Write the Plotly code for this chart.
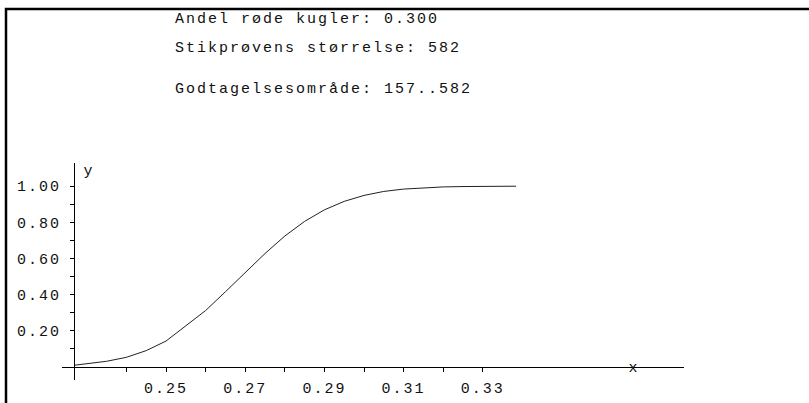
import plotly.graph_objects as go

# Operating characteristic: probability of landing in the acceptance region
p_values = [0.2268, 0.230, 0.235, 0.240, 0.245, 0.250, 0.255, 0.260, 0.265,
            0.270, 0.275, 0.280, 0.285, 0.290, 0.295, 0.300, 0.305, 0.310,
            0.315, 0.320, 0.325, 0.330, 0.335, 0.3384]
accept_prob = [0.008, 0.015, 0.030, 0.052, 0.089, 0.142, 0.224, 0.311, 0.415,
               0.520, 0.627, 0.724, 0.805, 0.869, 0.916, 0.949, 0.971, 0.984,
               0.992, 0.996, 0.998, 0.999, 1.000, 1.000]

x_major = [0.25, 0.27, 0.29, 0.31, 0.33]
x_minor = [0.24, 0.26, 0.28, 0.30, 0.32]
y_major = [0.20, 0.40, 0.60, 0.80, 1.00]
y_minor = [0.10, 0.30, 0.50, 0.70, 0.90]

info_lines = ["Andel røde kugler: 0.300",
              "Stikprøvens størrelse: 582",
              "Godtagelsesområde: 157..582"]

W, H = 809, 403
FONT = dict(family="Liberation Mono, Courier New, monospace", size=15, color="#111111")


def spaced(s):
    # wide character pitch, like a typewriter face
    return f'<span style="letter-spacing:2px">{s}</span>'


# pixel geometry of the axes
x_px_per_unit = 3960.0
x_ref_val, x_ref_px = 0.25, 166.0
y_px_per_unit = 180.5
y_zero_px = 366.7
x_axis_px = (62.0, 684.0)
y_axis_px = (163.0, 380.0)
y_axis_x_px = 74.0


def xval(px):
    return x_ref_val + (px - x_ref_px) / x_px_per_unit


def yval(py):
    return (y_zero_px - py) / y_px_per_unit


fig = go.Figure()
fig.add_trace(go.Scatter(x=p_values, y=accept_prob, mode="lines",
                         line=dict(color="#222222", width=1),
                         hoverinfo="skip", showlegend=False))

# page frame (top and left edges), drawn on a full-page pixel overlay
frame_x = [6, 6, W + 2]
frame_y = [H + 2, 9, 9]
fig.add_trace(go.Scatter(x=frame_x, y=frame_y, xaxis="x2", yaxis="y2",
                         mode="lines", line=dict(color="black", width=2.5),
                         hoverinfo="skip", showlegend=False))

# header text and axis names, placed in page pixels on the same overlay
label_text = [spaced(t) for t in info_lines] + ["x", "y"]
label_x = [175, 175, 175, 633, 88]
label_y = [19, 48, 89, 368, 171]
label_pos = ["middle right"] * 3 + ["middle center"] * 2
fig.add_trace(go.Scatter(x=label_x, y=label_y, text=label_text, xaxis="x2", yaxis="y2",
                         mode="text", textposition=label_pos, textfont=FONT,
                         cliponaxis=False, hoverinfo="skip", showlegend=False))

fig.update_layout(
    width=W, height=H,
    margin=dict(l=0, r=0, t=0, b=0, autoexpand=False),
    paper_bgcolor="white", plot_bgcolor="rgba(0,0,0,0)",
    xaxis=dict(
        domain=[x_axis_px[0] / W, x_axis_px[1] / W],
        range=[xval(x_axis_px[0]), xval(x_axis_px[1])],
        anchor="free", position=(H - y_zero_px) / H, automargin=False,
        showline=True, linecolor="black", linewidth=1,
        showgrid=False, zeroline=False,
        tickmode="array", tickvals=x_major,
        ticktext=[spaced(f"{v:.2f}") for v in x_major],
        ticks="outside", ticklen=4, tickwidth=1, tickcolor="black",
        ticklabelstandoff=3,
        tickfont=FONT,
        minor=dict(tickmode="array", tickvals=x_minor, ticks="outside",
                   ticklen=4, tickwidth=1, tickcolor="black", showgrid=False),
    ),
    yaxis=dict(
        domain=[(H - y_axis_px[1]) / H, (H - y_axis_px[0]) / H],
        range=[yval(y_axis_px[1]), yval(y_axis_px[0])],
        anchor="free", position=y_axis_x_px / W, automargin=False,
        showline=True, linecolor="black", linewidth=1,
        showgrid=False, zeroline=False,
        tickmode="array", tickvals=y_major,
        ticktext=[spaced(f"{v:.2f}") for v in y_major],
        ticks="outside", ticklen=4, tickwidth=1, tickcolor="black",
        ticklabelstandoff=6,
        tickfont=FONT,
        minor=dict(tickmode="array", tickvals=y_minor, ticks="outside",
                   ticklen=4, tickwidth=1, tickcolor="black", showgrid=False),
    ),
    xaxis2=dict(domain=[0, 1], range=[0, W], anchor="y2", visible=False,
                fixedrange=True, automargin=False),
    yaxis2=dict(domain=[0, 1], range=[H, 0], anchor="x2", visible=False,
                fixedrange=True, automargin=False),
)

fig.write_html("out.html", config={"displayModeBar": False})
